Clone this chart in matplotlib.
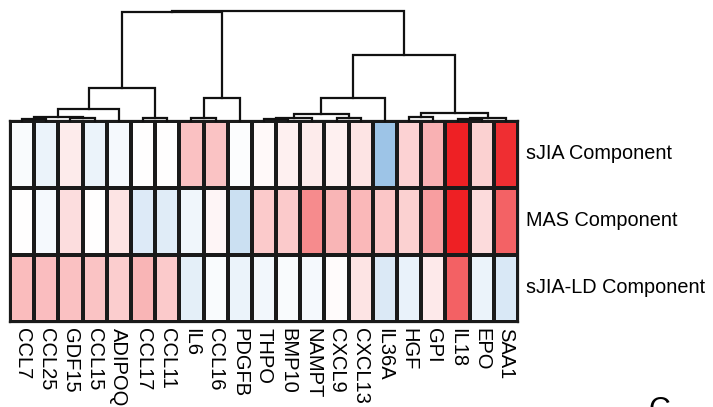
import matplotlib
matplotlib.use('Agg')
import matplotlib.pyplot as plt
import numpy as np
from matplotlib.colors import LinearSegmentedColormap

plt.rcParams['font.family'] = ['Liberation Sans', 'DejaVu Sans']

# data
genes = ['CCL7', 'CCL25', 'GDF15', 'CCL15', 'ADIPOQ', 'CCL17', 'CCL11', 'IL6', 'CCL16', 'PDGFB',
         'THPO', 'BMP10', 'NAMPT', 'CXCL9', 'CXCL13', 'IL36A', 'HGF', 'GPI', 'IL18', 'EPO', 'SAA1']
components = ['sJIA Component', 'MAS Component', 'sJIA-LD Component']
sjia = [-0.03, -0.09, 0.09, -0.09, -0.04, 0.0, 0.0, 0.28, 0.27, -0.01,
        0.03, 0.07, 0.09, 0.07, 0.12, -0.43, 0.20, 0.35, 1.0, 0.21, 0.93]
mas = [0.0, -0.04, 0.15, 0.0, 0.12, -0.15, -0.14, -0.07, 0.04, -0.23,
       0.24, 0.24, 0.52, 0.33, 0.32, 0.25, 0.21, 0.43, 1.0, 0.16, 0.70]
sjia_ld = [0.30, 0.29, 0.28, 0.27, 0.22, 0.33, 0.24, -0.12, -0.03, -0.09,
           -0.06, -0.03, -0.04, 0.02, 0.12, -0.16, -0.10, 0.10, 0.71, -0.09, -0.17]

# dendrogram merges (scipy style): child a, child b, height
merges = [(0, 1, 0.02), (2, 3, 0.025), (21, 22, 0.036), (23, 4, 0.109),
          (5, 6, 0.027), (24, 25, 0.30), (7, 8, 0.027), (27, 9, 0.209),
          (10, 11, 0.018), (29, 12, 0.027), (13, 14, 0.027), (30, 31, 0.064),
          (32, 15, 0.209), (16, 17, 0.032), (18, 19, 0.02), (35, 20, 0.027),
          (34, 36, 0.073), (33, 37, 0.60), (26, 28, 0.995), (39, 38, 1.0)]

data = np.array([sjia, mas, sjia_ld])
n = len(genes)

cmap = LinearSegmentedColormap.from_list('bwr2', ['#1f78c8', '#ffffff', '#ee2024'])

fig = plt.figure(figsize=(7.13, 4.07), dpi=100)
W, H = 713, 407
left, right, top, bottom = 10, 518, 121, 322
ax = fig.add_axes([left / W, 1 - bottom / H, (right - left) / W, (bottom - top) / H])
ax.pcolormesh(np.arange(n + 1), np.arange(4), data, cmap=cmap, vmin=-1, vmax=1,
              edgecolors='#1a1a1a', linewidth=1.6)
ax.set_xlim(0, n)
ax.set_ylim(3, 0)
ax.set_xticks(np.arange(n) + 0.5)
ax.set_xticklabels(genes, rotation=-90, fontsize=14.5, va='top', ha='center')
ax.tick_params(axis='x', length=0, pad=4)
ax.set_yticks(np.arange(3) + 0.45)
ax.set_yticklabels(components, fontsize=14.3)
ax.yaxis.tick_right()
ax.tick_params(axis='y', length=0, pad=6)
for s in ax.spines.values():
    s.set_linewidth(1.6)
    s.set_color('#1a1a1a')

# dendrogram
axd = fig.add_axes([left / W, 1 - top / H, (right - left) / W, (top - 11) / H])
pos = {i: i + 0.5 for i in range(n)}
hgt = {i: 0.0 for i in range(n)}
for k, (a, b, h) in enumerate(merges):
    xa, xb = pos[a], pos[b]
    axd.plot([xa, xa, xb, xb], [hgt[a], h, h, hgt[b]], color='#111111', lw=1.6,
             solid_joinstyle='miter', clip_on=False)
    pos[n + k] = (xa + xb) / 2
    hgt[n + k] = h
axd.set_xlim(0, n)
axd.set_ylim(0, 1.0)
axd.axis('off')

# cut-off panel letter at the bottom edge
fig.text(648 / W, 1 - 396 / H, 'C', fontsize=22, va='top', ha='left')

fig.savefig('out.png', dpi=100)
